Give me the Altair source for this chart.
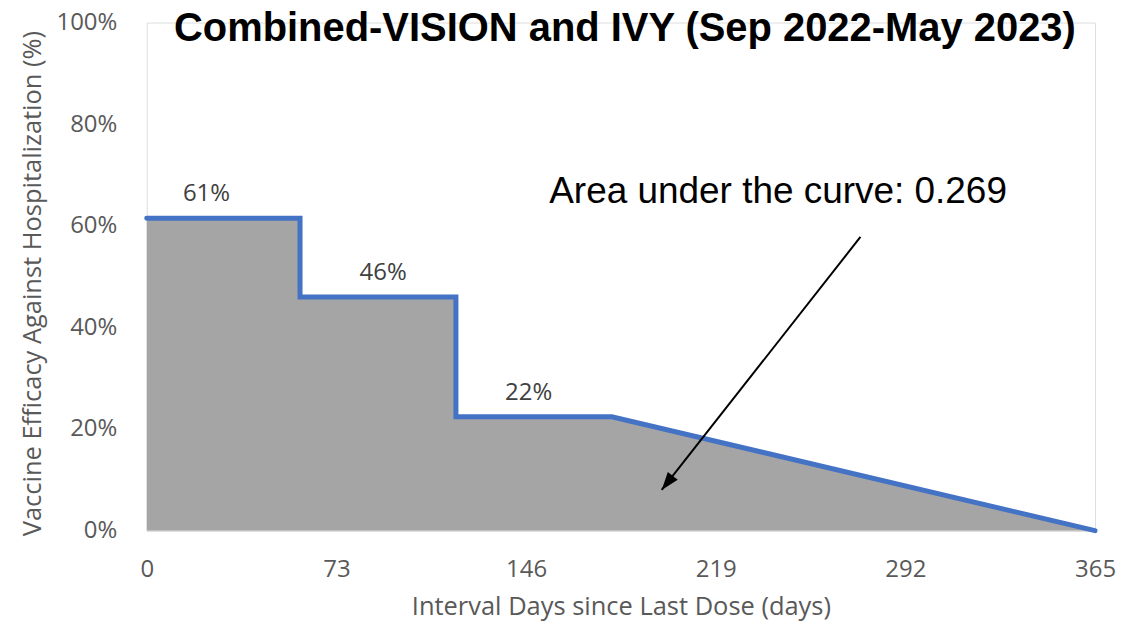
import math
import altair as alt
import pandas as pd

# Curve vertices (days since last dose, vaccine efficacy %)
curve_days = [0, 59, 59, 119, 119, 179, 365]
curve_ve = [61.5, 61.5, 46.0, 46.0, 22.4, 22.4, 0.0]

# Data labels above each plateau
label_days = [23, 91, 147]
label_ve = [61.5, 46.0, 22.4]
label_text = ["61%", "46%", "22%"]

# Annotation
note_text = ["Area under the curve: 0.269"]
note_day = [243]
note_ve = [66.6]
arrow_from = (274.7, 57.8)
arrow_to = (198.2, 8.0)

x_ticks = [0, 73, 146, 219, 292, 365]
y_ticks = [0, 20, 40, 60, 80, 100]

W, H = 950, 509

curve = pd.DataFrame({"i": list(range(len(curve_days))), "day": curve_days, "ve": curve_ve})
labels = pd.DataFrame({"day": label_days, "ve": label_ve, "txt": label_text})
note = pd.DataFrame({"day": note_day, "ve": note_ve, "txt": note_text})
arrow_line = pd.DataFrame({"day": [arrow_from[0]], "ve": [arrow_from[1]],
                           "day2": [arrow_to[0]], "ve2": [arrow_to[1]]})
dxp = (arrow_to[0] - arrow_from[0]) * W / 365
dyp = -(arrow_to[1] - arrow_from[1]) * H / 100
angle = (math.degrees(math.atan2(dxp, -dyp)) + 360) % 360
arrow_head = pd.DataFrame({"day": [arrow_to[0]], "ve": [arrow_to[1]]})

xs = alt.Scale(domain=[0, 365], nice=False, zero=False)
ys = alt.Scale(domain=[0, 100], nice=False)

x_enc = alt.X("day:Q", scale=xs, title="Interval Days since Last Dose (days)",
              axis=alt.Axis(values=x_ticks, grid=False, ticks=False, tickSize=0, labelFlush=False,
                            domain=True, domainColor="#d9d9d9", domainWidth=1.5,
                            labelFont="Open Sans", labelFontSize=24, labelColor="#595959",
                            labelPadding=27, titleFont="Open Sans", titleFontSize=25.5,
                            titleFontWeight="normal", titleColor="#595959", titlePadding=13))
y_enc = alt.Y("ve:Q", scale=ys, stack=None, title="Vaccine Efficacy Against Hospitalization (%)",
              axis=alt.Axis(values=y_ticks, grid=False, ticks=False, tickSize=0, domain=False,
                            labelExpr="datum.value + '%'", labelFlush=False,
                            labelFont="Open Sans", labelFontSize=24, labelColor="#595959",
                            labelPadding=30, titleFont="Open Sans", titleFontSize=25.5,
                            titleFontWeight="normal", titleColor="#595959", titlePadding=10,
                            titleY=261))

area = alt.Chart(curve).mark_area(color="#a5a5a5", opacity=1, interpolate="linear").encode(
    x=x_enc, y=y_enc)
line = alt.Chart(curve).mark_line(color="#4472c4", strokeWidth=5, strokeCap="round",
                                  strokeJoin="miter").encode(
    x=alt.X("day:Q", scale=xs), y=alt.Y("ve:Q", scale=ys, stack=None), order="i:Q")
lab = alt.Chart(labels).mark_text(font="Open Sans", fontSize=24, color="#404040",
                                  baseline="alphabetic", align="center", dy=-17).encode(
    x=alt.X("day:Q", scale=xs), y=alt.Y("ve:Q", scale=ys), text="txt:N")
note_m = alt.Chart(note).mark_text(font="Liberation Sans", fontSize=37, color="#000000",
                                   baseline="middle", align="center").encode(
    x=alt.X("day:Q", scale=xs), y=alt.Y("ve:Q", scale=ys), text="txt:N")
arr = alt.Chart(arrow_line).mark_rule(color="#000000", strokeWidth=2).encode(
    x=alt.X("day:Q", scale=xs), y=alt.Y("ve:Q", scale=ys), x2="day2:Q", y2="ve2:Q")
head = alt.Chart(arrow_head).mark_point(shape="M0,0 L-0.7,2 L0.7,2 Z", size=324, filled=True,
                                        color="#000000", opacity=1, angle=angle).encode(
    x=alt.X("day:Q", scale=xs), y=alt.Y("ve:Q", scale=ys))

chart = alt.layer(area, line, lab, arr, head, note_m).properties(
    width=W, height=H,
    title=alt.TitleParams("Combined-VISION and IVY (Sep 2022-May 2023)", font="Liberation Sans",
                          fontSize=40, fontWeight="bold", color="#000000", anchor="middle",
                          baseline="alphabetic", offset=0, dy=70, dx=4),
    autosize=alt.AutoSizeParams(type="none"),
    padding={"left": 139, "top": 14, "right": 21, "bottom": 96},
).configure_view(stroke=None, strokeWidth=0).configure(background="white")

chart.save("out.html", embed_options={"renderer": "svg", "actions": False})
